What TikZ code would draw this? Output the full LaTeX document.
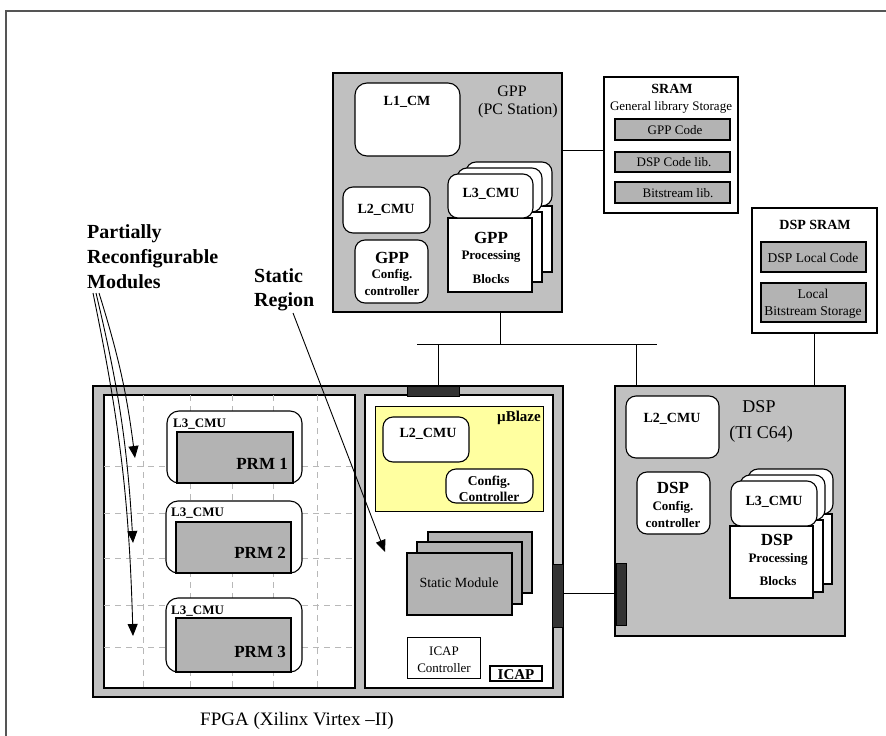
\documentclass[tikz,border=0pt]{standalone}
\usepackage{fontspec}
\setmainfont{Liberation Serif}
\usetikzlibrary{arrows.meta,fit}
\definecolor{boxgray}{HTML}{C0C0C0}
\definecolor{prmgray}{HTML}{B3B3B3}
\definecolor{blockdark}{HTML}{333333}
\definecolor{blazeyel}{HTML}{FFFFA0}
\definecolor{gridgray}{HTML}{B8B8B8}
\definecolor{framegray}{HTML}{555555}
\newcommand\fs[1]{\fontsize{#1}{#1}\selectfont}
\begin{document}
\begin{tikzpicture}[x=1pt,y=-1pt,
  region/.style={draw=black, line width=1.1pt, inner sep=0pt, outer sep=0pt},
  graybox/.style={region, fill=boxgray},
  whitebox/.style={region, fill=white},
  prmbox/.style={region, fill=prmgray},
  roundbox/.style={region, fill=white, rounded corners=10pt},
  darkbox/.style={region, fill=blockdark, line width=0.8pt},
  lbl/.style={inner sep=0pt, anchor=base, align=center},
  conn/.style={draw=black, line width=0.9pt},
  callout/.style={draw=black, line width=0.9pt, -{Triangle[length=12pt,width=10pt]}},
  gridline/.style={draw=gridgray, line width=0.8pt, dash pattern=on 6pt off 5pt},
]
\useasboundingbox (0,0) rectangle (886,736);
\draw[framegray, line width=1.3pt] (6,736) -- (6,11) -- (886,11);

% ---------------- GPP ----------------
\node[graybox, fit={(333,73) (562,312)}] (gpp) {};
\node[roundbox, rounded corners=12pt, fit={(355,83) (460,156)}] (l1cm) {};
\node[roundbox, fit={(343,187) (430,233)}] (gl2) {};
\node[roundbox, fit={(355,240) (428,303)}] (gcfg) {};
\node[whitebox, fit={(466,206) (552,272)}] (gpb2) {};
\node[roundbox, fit={(466,162) (552,206)}] (gl32) {};
\node[whitebox, fit={(457,212) (542,282)}] (gpb1) {};
\node[roundbox, fit={(457,168) (542,212)}] (gl31) {};
\node[whitebox, fit={(448,218) (532,292)}] (gpb0) {};
\node[roundbox, fit={(448,174) (533,218)}] (gl30) {};
\node[lbl, font=\fs{14}\bfseries] (tl1) at (407,105) {L1\_CM};
\node[lbl, font=\fs{16}] (tgpp) at (512,96) {GPP};
\node[lbl, font=\fs{16}] (tpc) at (518,114) {(PC Station)};
\node[lbl, font=\fs{14}\bfseries] (tgl2) at (386,213) {L2\_CMU};
\node[lbl, font=\fs{17}\bfseries] (tgc1) at (392,263) {GPP};
\node[lbl, font=\fs{13}\bfseries] (tgc2) at (392,278) {Config.};
\node[lbl, font=\fs{13}\bfseries] (tgc3) at (392,295) {controller};
\node[lbl, font=\fs{14}\bfseries] (tgl3) at (491,197) {L3\_CMU};
\node[lbl, font=\fs{17}\bfseries] (tgp1) at (491,243) {GPP};
\node[lbl, font=\fs{13}\bfseries] (tgp2) at (491,259) {Processing};
\node[lbl, font=\fs{13}\bfseries] (tgp3) at (491,283) {Blocks};

% ---------------- SRAM ----------------
\node[whitebox, fit={(604,77) (738,213)}] (sram) {};
\node[prmbox, fit={(615,119) (730,140)}] (sgpp) {};
\node[prmbox, fit={(615,152) (730,172)}] (sdsp) {};
\node[prmbox, fit={(615,182) (730,203)}] (sbit) {};
\node[lbl, font=\fs{14}\bfseries] (tsram) at (672,93) {SRAM};
\node[lbl, font=\fs{13}] (tgen) at (671,110) {General library Storage};
\node[lbl, font=\fs{13}] (tsg) at (675,134) {GPP Code};
\node[lbl, font=\fs{13}] (tsd) at (674,166) {DSP Code lib.};
\node[lbl, font=\fs{13}] (tsb) at (678,197) {Bitstream lib.};

% ---------------- DSP SRAM ----------------
\node[whitebox, fit={(752,208) (877,333)}] (dsram) {};
\node[prmbox, fit={(761,242) (866,272)}] (dlc) {};
\node[prmbox, fit={(761,283) (866,322)}] (dlb) {};
\node[lbl, font=\fs{14}\bfseries] (tdsram) at (815,229) {DSP SRAM};
\node[lbl, font=\fs{13.5}] (tdlc) at (813,262) {DSP Local Code};
\node[lbl, font=\fs{13.5}] (tdlb1) at (813,298) {Local};
\node[lbl, font=\fs{13.5}] (tdlb2) at (813,315) {Bitstream Storage};

% ---------------- DSP ----------------
\node[graybox, fit={(615,386) (845,636)}] (dsp) {};
\node[roundbox, fit={(626,396) (719,458)}] (dl2) {};
\node[roundbox, fit={(637,472) (710,534)}] (dcfg) {};
\node[whitebox, fit={(748,514) (832,584)}] (dpb2) {};
\node[roundbox, fit={(748,469) (833,514)}] (dl32) {};
\node[whitebox, fit={(740,520) (823,592)}] (dpb1) {};
\node[roundbox, fit={(740,475) (825,520)}] (dl31) {};
\node[whitebox, fit={(730,526) (813,598)}] (dpb0) {};
\node[roundbox, fit={(731,481) (817,526)}] (dl30) {};
\node[lbl, font=\fs{14}\bfseries] (tdl2) at (672,422) {L2\_CMU};
\node[lbl, font=\fs{18}] (tdsp) at (759,412) {DSP};
\node[lbl, font=\fs{18}] (tti) at (761,438) {(TI C64)};
\node[lbl, font=\fs{17}\bfseries] (tdc1) at (673,493) {DSP};
\node[lbl, font=\fs{13}\bfseries] (tdc2) at (673,510) {Config.};
\node[lbl, font=\fs{13}\bfseries] (tdc3) at (673,527) {controller};
\node[lbl, font=\fs{14}\bfseries] (tdl3) at (774,505) {L3\_CMU};
\node[lbl, font=\fs{17}\bfseries] (tdp1) at (777,545) {DSP};
\node[lbl, font=\fs{13}\bfseries] (tdp2) at (778,562) {Processing};
\node[lbl, font=\fs{13}\bfseries] (tdp3) at (778,585) {Blocks};

% ---------------- FPGA ----------------
\node[graybox, fit={(93,386) (563,697)}] (fpga) {};
\node[whitebox, fit={(104,395) (355,688)}] (prr) {};
\node[whitebox, fit={(365,395) (553,688)}] (sreg) {};
\begin{scope}
  \clip (104,395) rectangle (355,688);
  \foreach \gx in {143,190,232,273,317} \draw[gridline] (\gx,395) -- (\gx,688);
  \foreach \gy in {466,513,558,605,647} \draw[gridline] (104,\gy) -- (355,\gy);
\end{scope}
\node[roundbox, rounded corners=12pt, fit={(167,411) (302,483)}] (c1) {};
\node[prmbox, fit={(177,432) (293,483)}] (p1) {};
\node[roundbox, rounded corners=12pt, fit={(166,501) (302,573)}] (c2) {};
\node[prmbox, fit={(176,522) (291,573)}] (p2) {};
\node[roundbox, rounded corners=12pt, fit={(166,598) (302,672)}] (c3) {};
\node[prmbox, fit={(176,618) (291,672)}] (p3) {};
\node[lbl, anchor=base west, font=\fs{13}\bfseries] (tc1) at (173,427) {L3\_CMU};
\node[lbl, anchor=base east, font=\fs{17}\bfseries] (tp1) at (288,469) {PRM 1};
\node[lbl, anchor=base west, font=\fs{13}\bfseries] (tc2) at (171,516) {L3\_CMU};
\node[lbl, anchor=base east, font=\fs{17}\bfseries] (tp2) at (286,558) {PRM 2};
\node[lbl, anchor=base west, font=\fs{13}\bfseries] (tc3) at (171,614) {L3\_CMU};
\node[lbl, anchor=base east, font=\fs{17}\bfseries] (tp3) at (286,657) {PRM 3};

\node[region, fill=blazeyel, line width=0.9pt, fit={(375,406) (543,511)}] (ublaze) {};
\node[roundbox, fit={(383,417) (469,462)}] (ul2) {};
\node[roundbox, fit={(446,469) (533,503)}] (ucfg) {};
\node[lbl, anchor=base east, font=\fs{15}\bfseries] (tub) at (541,421) {µBlaze};
\node[lbl, font=\fs{14}\bfseries] (tul2) at (428,437) {L2\_CMU};
\node[lbl, font=\fs{13.5}\bfseries] (tuc1) at (489,485) {Config.};
\node[lbl, font=\fs{13.5}\bfseries] (tuc2) at (489,501) {Controller};

\node[prmbox, fit={(428,532) (532,593)}] (sm2) {};
\node[prmbox, fit={(417,542) (522,604)}] (sm1) {};
\node[prmbox, fit={(407,553) (512,615)}] (sm0) {};
\node[lbl, font=\fs{14}] (tsm) at (459,587) {Static Module};
\node[whitebox, line width=0.9pt, fit={(407,637) (480,678)}] (icapc) {};
\node[lbl, font=\fs{13}] (tic1) at (444,655) {ICAP};
\node[lbl, font=\fs{13}] (tic2) at (444,672) {Controller};
\node[region, fill=white, line width=2pt, fit={(490,666) (542,681)}] (icap) {};
\node[lbl, font=\fs{15}\bfseries] (ticap) at (516,679) {ICAP};

\node[darkbox, fit={(407,386) (459,396)}] (pbus) {};
\node[darkbox, fit={(552,564) (563,627)}] (pfr) {};
\node[darkbox, fit={(616,563) (626,625)}] (pdl) {};

\node[lbl, font=\fs{19}] (tfpga) at (297,725) {FPGA (Xilinx Virtex –II)};

% ---------------- connectors ----------------
\coordinate (busL) at (417,344);
\coordinate (busR) at (657,344);
\coordinate (jg) at (500,344);
\coordinate (jf) at (438,344);
\coordinate (jd) at (636,344);
\coordinate (gs) at (0,150);
\draw[conn] (busL) -- (busR);
\draw[conn] (jg |- gpp.south) -- (jg);
\draw[conn] (jf) -- (jf |- pbus.north);
\draw[conn] (jd) -- (jd |- dsp.north);
\draw[conn] (gpp.east |- gs) -- (sram.west |- gs);
\draw[conn] (dsram.south) -- (dsram.south |- dsp.north);
\draw[conn] (pfr.east |- 0,593) -- (pdl.west |- 0,593);

% ---------------- callouts ----------------
\node[lbl, anchor=base west, font=\fs{20}\bfseries] (tpa) at (87,238) {Partially};
\node[lbl, anchor=base west, font=\fs{20}\bfseries] (tpb) at (87,263) {Reconfigurable};
\node[lbl, anchor=base west, font=\fs{20}\bfseries] (tpm) at (87,288) {Modules};
\node[lbl, anchor=base west, font=\fs{20}\bfseries] (tsa) at (254,282) {Static};
\node[lbl, anchor=base west, font=\fs{20}\bfseries] (tsr) at (254,306) {Region};
\coordinate (a1) at (99,293);
\coordinate (a2) at (96,293);
\coordinate (a3) at (93,293);
\coordinate (e1) at (135,458);
\coordinate (e2) at (133,543);
\coordinate (e3) at (133,636);
\coordinate (sa) at (293,313);
\coordinate (se) at (385,552);
\draw[callout] (a1) to[bend left=5] (e1);
\draw[callout] (a2) to[bend left=5] (e2);
\draw[callout] (a3) to[bend left=5] (e3);
\draw[callout] (sa) -- (se);
\end{tikzpicture}
\end{document}
